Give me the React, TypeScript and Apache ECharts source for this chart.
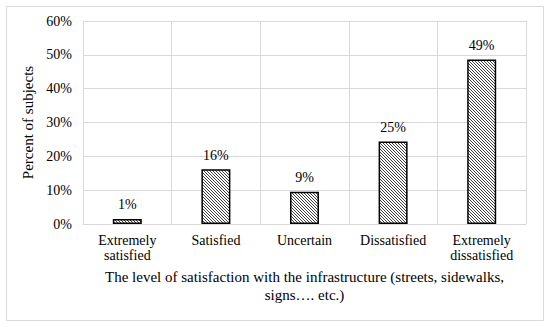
import React, { useEffect, useRef } from "react";
import * as echarts from "echarts";

const categories = ["Extremely\nsatisfied", "Satisfied", "Uncertain", "Dissatisfied", "Extremely\ndissatisfied"];
const values = [1.5, 16.2, 9.5, 24.4, 48.6];
const valueLabels = ["1%", "16%", "9%", "25%", "49%"];
const yTicks = { min: 0, max: 60, interval: 10 };
const xAxisTitle = "The level of satisfaction with the infrastructure (streets, sidewalks,\nsigns…. etc.)";
const yAxisTitle = "Percent of subjects";

const FONT = "Liberation Serif";
const GRID_COLOR = "#d9d9d9";

function makeHatch(): HTMLCanvasElement {
  const size = 3;
  const c = document.createElement("canvas");
  c.width = size;
  c.height = size;
  const ctx = c.getContext("2d")!;
  ctx.fillStyle = "#ffffff";
  ctx.fillRect(0, 0, size, size);
  ctx.fillStyle = "#404040";
  for (let i = 0; i < size; i++) {
    ctx.fillRect(i, i, 1, 1);
  }
  return c;
}

export default function App() {
  const ref = useRef<HTMLDivElement>(null);
  useEffect(() => {
    if (!ref.current) return;
    const chart = echarts.init(ref.current, undefined, { renderer: "svg" });
    const hatch = makeHatch();
    chart.setOption({
      animation: false,
      backgroundColor: "#ffffff",
      textStyle: { fontFamily: FONT },
      graphic: [
        {
          type: "rect",
          shape: { x: 6.5, y: 6.5, width: 537, height: 314 },
          style: { fill: "none", stroke: GRID_COLOR, lineWidth: 1 },
          silent: true,
        },
      ],
      grid: { left: 83, right: 24, top: 21, bottom: 103 },
      xAxis: {
        type: "category",
        data: categories,
        boundaryGap: true,
        axisLine: { show: true, lineStyle: { color: GRID_COLOR, width: 1 } },
        axisTick: { show: false },
        splitLine: { show: true, lineStyle: { color: GRID_COLOR, width: 1 } },
        axisLabel: {
          color: "#000",
          fontFamily: FONT,
          fontSize: 14,
          lineHeight: 15,
          margin: 9,
          interval: 0,
        },
        name: xAxisTitle,
        nameLocation: "middle",
        nameGap: 44,
        nameTextStyle: { color: "#000", fontFamily: FONT, fontSize: 15, lineHeight: 18 },
      },
      yAxis: {
        type: "value",
        min: yTicks.min,
        max: yTicks.max,
        interval: yTicks.interval,
        axisLine: { show: true, lineStyle: { color: GRID_COLOR, width: 1 } },
        axisTick: { show: false },
        splitLine: { show: true, lineStyle: { color: GRID_COLOR, width: 1 } },
        axisLabel: {
          color: "#000",
          fontFamily: FONT,
          fontSize: 14,
          margin: 11,
          formatter: (v: number) => v + "%",
        },
        name: yAxisTitle,
        nameLocation: "middle",
        nameGap: 35,
        nameTextStyle: { color: "#000", fontFamily: FONT, fontSize: 15 },
      },
      series: [
        {
          type: "bar",
          data: values,
          barWidth: 29,
          itemStyle: {
            color: { image: hatch, repeat: "repeat" },
            borderColor: "#000000",
            borderWidth: 1.5,
          },
          label: {
            show: true,
            position: "top",
            distance: 7,
            color: "#000",
            fontFamily: FONT,
            fontSize: 14,
            formatter: (p: any) => valueLabels[p.dataIndex],
          },
        },
      ],
    });
    return () => chart.dispose();
  }, []);
  return (
    <div
      ref={ref}
      style={{ position: "absolute", left: 0, top: 0, width: 550, height: 327, background: "#fff" }}
    />
  );
}
